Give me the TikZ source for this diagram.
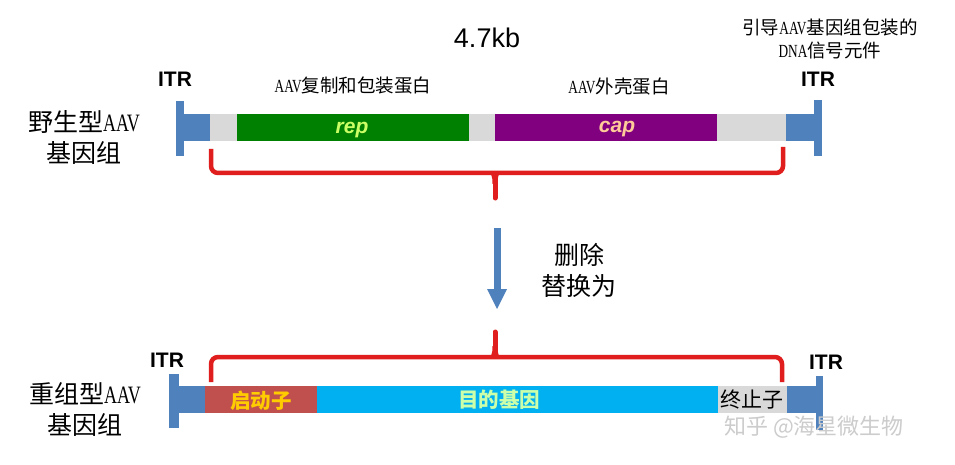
\documentclass[tikz,border=0pt]{standalone}
\usepackage{fontspec}
\setmainfont{Liberation Serif}
\newfontfamily\cjk{Noto Sans CJK SC}
\newfontfamily\arial{Liberation Sans}
\newcommand{\nar}[1]{\scalebox{0.72}[1]{#1}}
\definecolor{itrblue}{HTML}{4F81BD}
\definecolor{bargray}{HTML}{D9D9D9}
\definecolor{repgreen}{HTML}{008000}
\definecolor{cappurple}{HTML}{800080}
\definecolor{braced}{HTML}{E01E1E}
\definecolor{promred}{HTML}{C0504D}
\definecolor{genecyan}{HTML}{00B0F0}
\definecolor{reptext}{HTML}{CCFF66}
\definecolor{captext}{HTML}{FFCC99}
\definecolor{promtext}{HTML}{FFCC00}
\definecolor{genetext}{HTML}{CCFFAA}
\tikzset{
  itrlabel/.style={font=\arial\bfseries\fontsize{21}{21}\selectfont, inner sep=0pt},
  biglabel/.style={font=\cjk\fontsize{25}{31}\selectfont, align=center, inner sep=0pt},
  smalllabel/.style={font=\cjk\fontsize{18.5}{23}\selectfont, align=center, inner sep=0pt},
  seglabel/.style={font=\cjk\bfseries\fontsize{20.5}{20.5}\selectfont, inner sep=0pt},
  genelabel/.style={font=\arial\bfseries\itshape\fontsize{21}{21}\selectfont, inner sep=0pt},
  bracket/.style={draw=braced, line width=4.5pt, rounded corners=7pt},
  spikeline/.style={draw=braced, line width=5pt, line cap=round},
  spikefill/.style={fill=braced}
}
\begin{document}
\begin{tikzpicture}[x=1pt,y=-1pt]
\useasboundingbox[fill=white] (0,0) rectangle (955,465);

% ---------- wild type ----------
\fill[bargray] (210,114) rectangle (786,141);
\fill[repgreen] (237,114) rectangle (469,141);
\fill[cappurple] (495,114) rectangle (717,141);
\fill[itrblue] (176,101) rectangle (184,156);
\fill[itrblue] (184,114) rectangle (210,141);
\fill[itrblue] (786,114) rectangle (814,141);
\fill[itrblue] (814,100) rectangle (822,156);

\node[genelabel, text=reptext, anchor=base] (rep) at (352,134) {rep};
\node[genelabel, text=captext, anchor=base] (cap) at (617,133) {cap};

\node[itrlabel] (itr1) at (175,79) {ITR};
\node[itrlabel] (itr2) at (818,79) {ITR};
\node[smalllabel] (repcap) at (353,86) {\nar{\rmfamily AAV}复制和包装蛋白};
\node[smalllabel] (capsid) at (619,87) {\nar{\rmfamily AAV}外壳蛋白};
\node[font=\arial\fontsize{27}{27}\selectfont, inner sep=0pt] (size) at (487,38) {4.7kb};
\node[smalllabel] (signal) at (830,39) {引导\nar{\rmfamily AAV}基因组包装的\\\nar{\rmfamily DNA}信号元件};
\node[biglabel] (wt) at (84,137) {野生型\nar{\rmfamily AAV}\\基因组};

% top bracket
\draw[bracket] (211,149) -- (211,173) -- (783,173) -- (783,147);
\draw[spikeline] (495,174) -- (495,198);
\fill[spikefill] (484,172) .. controls (492.5,172) and (492.5,177) .. (492.5,184)
  -- (497.5,184) .. controls (497.5,177) and (497.5,172) .. (506,172) -- cycle;

% ---------- arrow ----------
\coordinate (atop) at (497,228);
\coordinate (abot) at (497,309);
\fill[itrblue] (493.5,228) rectangle (500.5,290);
\fill[itrblue] (487,289) -- (507,289) -- (abot) -- cycle;
\node[biglabel] (op) at (579,270) {删除\\替换为};

% bottom bracket
\draw[bracket] (211,382) -- (211,357) -- (782,357) -- (782,382);
\draw[spikeline] (495,356) -- (495,332);
\fill[spikefill] (484,358) .. controls (492.5,358) and (492.5,353) .. (492.5,346)
  -- (497.5,346) .. controls (497.5,353) and (497.5,358) .. (506,358) -- cycle;

% ---------- recombinant ----------
\fill[promred] (205,386) rectangle (317,413);
\fill[genecyan] (317,386) rectangle (718,413);
\fill[bargray] (718,386) rectangle (787,413);
\fill[itrblue] (169,374) rectangle (179,428);
\fill[itrblue] (179,386) rectangle (205,413);
\fill[itrblue] (787,386) rectangle (816,413);
\fill[itrblue] (816,376) rectangle (823,430);

\node[itrlabel] (itr3) at (167,360) {ITR};
\node[itrlabel] (itr4) at (826,362) {ITR};
\node[seglabel, text=promtext] (prom) at (261,401) {启动子};
\node[seglabel, text=genetext] (gene) at (499,400) {目的基因};
\node[font=\cjk\fontsize{21}{21}\selectfont, inner sep=0pt] (term) at (752,400) {终止子};
\node[biglabel] (rec) at (85,409) {重组型\nar{\rmfamily AAV}\\基因组};

% watermark
\node[font=\cjk\fontsize{22}{22}\selectfont, text=black!20, inner sep=0pt] (wm) at (814,427) {知乎 @海星微生物};
\end{tikzpicture}
\end{document}
